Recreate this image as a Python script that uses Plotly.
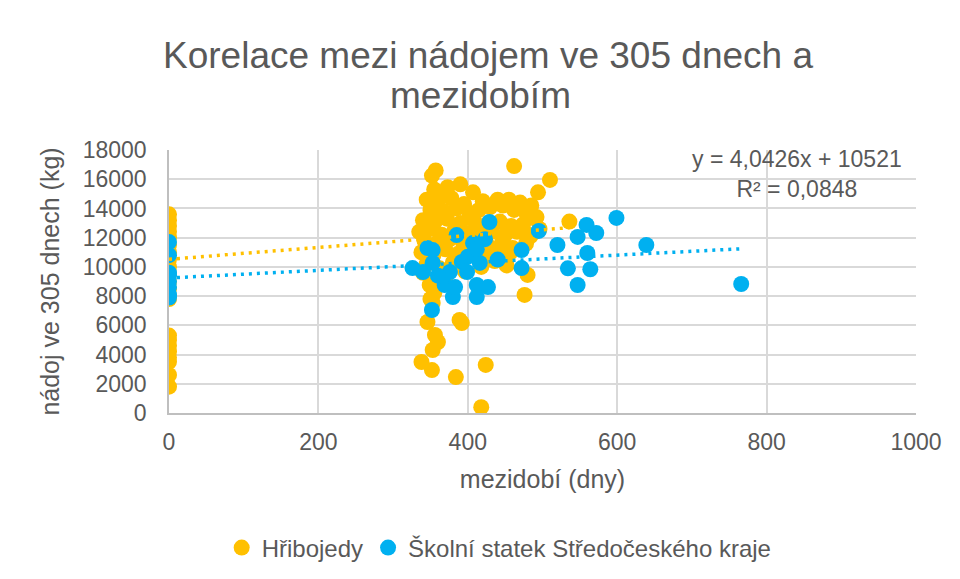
import plotly.graph_objects as go

# ---------------- data ----------------
hrib_x = [0]*14 + [0]*8 + [
    357, 352, 462, 510, 390, 373, 407, 494, 355, 362,
    345, 360, 378, 395, 420, 440, 455, 470, 485, 447,
    350, 368, 385, 402, 415, 430, 462, 478, 490, 536,
    340, 356, 372, 390, 408, 425, 443, 458, 474, 496,
    335, 350, 365, 382, 398, 414, 432, 450, 466, 484,
    342, 360, 376, 394, 411, 428, 446, 460, 478,
    338, 354, 370, 387, 404, 420, 440, 457,
    345, 362, 380, 396, 418, 436, 452,
    340, 349, 353, 346, 356, 360, 353, 338, 352, 389, 392, 384, 424, 418,
    476, 480, 483, 492, 360, 370, 355, 350]
hrib_y = [13600, 13200, 12800, 12400, 12000, 11500, 11000, 10500, 10000, 9500, 9000, 8500, 8000, 7800] + \
         [5300, 5000, 4600, 4200, 3800, 3500, 2600, 1800] + [
    16600, 16250, 16900, 15950, 15650, 15450, 15100, 15100, 15300, 15000,
    14600, 14400, 14700, 14300, 14500, 14600, 14600, 14400, 14200, 14200,
    13900, 13800, 14000, 13700, 13900, 14100, 13900, 13700, 13300, 13100,
    13200, 13100, 13300, 13000, 13200, 12900, 13100, 12800, 12900, 12600,
    12400, 12600, 12200, 12500, 12300, 12600, 12400, 12200, 12400, 12100,
    11800, 11700, 11900, 11600, 11800, 11400, 11700, 11300, 11600,
    11000, 10800, 11200, 10900, 11100, 10700, 10900, 11000,
    10200, 9900, 10300, 9700, 10000, 10400, 10100,
    9600, 8760, 7530, 6230, 5340, 4860, 4310, 3490, 2940, 6370, 6160, 2460, 3290, 400,
    8080, 9450, 12180, 13410, 9000, 9300, 8200, 7800]

skola_x = [0]*8 + [
    326, 340, 346, 353, 353, 352, 369, 376, 380, 385,
    392, 399, 407, 412, 412, 416, 423, 427, 429, 472,
    472, 520, 534, 547, 547, 559, 560, 564, 572, 599,
    639, 766, 495, 383, 400, 360, 440, 412]
skola_y = [11700, 10800, 9600, 9400, 9000, 8600, 8100, 7900] + [
    9920, 9650, 11290, 10270, 11150, 7050, 8760, 9650, 7940, 12180,
    10340, 9650, 11630, 8760, 7940, 10270, 11900, 8620, 13070, 11150,
    9920, 11500, 9900, 8760, 12050, 12870, 10950, 9840, 12320, 13350,
    11500, 8830, 12460, 8620, 10700, 9400, 10500, 11200]

# linear trendlines (slope, intercept)
hrib_trend = (4.0426, 10521)
skola_trend = (2.61, 9240)

series_names = ["Hřibojedy", "Školní statek Středočeského kraje"]
title_lines = ["Korelace mezi nádojem ve 305 dnech a", "mezidobím"]
equation_text = "y = 4,0426x + 10521<br>R² = 0,0848"

x_ticks = [0, 200, 400, 600, 800, 1000]
y_ticks = [0, 2000, 4000, 6000, 8000, 10000, 12000, 14000, 16000, 18000]

YELLOW = "#FFC000"
BLUE = "#00B0F0"
GREY = "#595959"
FONT = "Liberation Sans, Arial, sans-serif"

fig = go.Figure()
fig.add_trace(go.Scatter(x=hrib_x, y=hrib_y, mode="markers", name=series_names[0],
                         marker=dict(color=YELLOW, size=16)))
fig.add_trace(go.Scatter(x=skola_x, y=skola_y, mode="markers", name=series_names[1],
                         marker=dict(color=BLUE, size=16)))

for xs, (m, b), col in [(skola_x, skola_trend, BLUE), (hrib_x, hrib_trend, YELLOW)]:
    x0, x1 = min(xs), max(xs)
    fig.add_trace(go.Scatter(x=[x0, x1], y=[m*x0 + b, m*x1 + b], mode="lines",
                             showlegend=False, hoverinfo="skip",
                             line=dict(color=col, width=3.5, dash="3px,5px")))

fig.add_annotation(x=1.0, y=1.0, xref="paper", yref="paper", xanchor="right", yanchor="top",
                   xshift=-12, yshift=6, text=equation_text, showarrow=False, align="center",
                   font=dict(size=23, color=GREY, family=FONT))

# second title line (centred on the page, not on the plot area)
fig.add_annotation(x=0.5, y=1.209, xref="paper", yref="paper", xanchor="center", yanchor="middle",
                   text=title_lines[1], showarrow=False, xshift=480 - (169 + 916) / 2,
                   font=dict(size=37, color=GREY, family=FONT))

fig.update_layout(
    width=960, height=579,
    paper_bgcolor="white", plot_bgcolor="white",
    font=dict(family=FONT, color=GREY),
    margin=dict(l=161, r=52, t=142, b=174),
    title=dict(text=title_lines[0],
               x=0.5, xanchor="center", y=0.9188, yref="container", yanchor="middle",
               font=dict(size=37, color=GREY, family=FONT)),
    xaxis=dict(range=[0, 1000], tickvals=x_ticks, ticktext=[str(v) for v in x_ticks],
               showgrid=True, gridcolor="#D9D9D9", gridwidth=1.5, automargin=False,
               zeroline=False, showline=True, linecolor="#BFBFBF", linewidth=1.5,
               tickfont=dict(size=23, color=GREY), ticklabelstandoff=8,
               title=dict(text="mezidobí (dny)", font=dict(size=25, color=GREY), standoff=16)),
    yaxis=dict(range=[0, 18000], tickvals=y_ticks, ticktext=[str(v) for v in y_ticks],
               showgrid=True, gridcolor="#D9D9D9", gridwidth=1.5, automargin=False,
               zeroline=False, showline=True, linecolor="#BFBFBF", linewidth=1.5,
               tickfont=dict(size=23, color=GREY), ticklabelstandoff=16,
               title=dict(text="nádoj ve 305 dnech (kg)", font=dict(size=25, color=GREY), standoff=16)),
    legend=dict(orientation="h", x=0.442, xanchor="center", y=0.0674, yref="container",
                yanchor="middle", font=dict(size=24, color=GREY), itemwidth=30),
    showlegend=True,
)

fig.write_html("out.html")
